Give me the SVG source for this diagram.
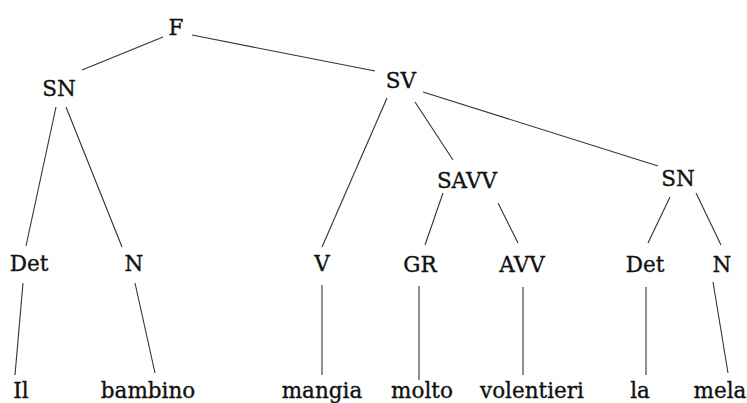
<svg xmlns="http://www.w3.org/2000/svg" width="747" height="403" viewBox="0 0 747 403">
<style>
text{font-family:"DejaVu Serif","Liberation Serif",serif;font-size:21.5px;fill:#111;stroke:#111;stroke-width:0.35;text-anchor:middle}
.e line{stroke:#333;stroke-width:1.1}
</style>
<rect width="747" height="403" fill="#fff"/>
<g class="e" id="edges">
<line x1="163" y1="37" x2="82" y2="70"/>
<line x1="192" y1="35" x2="375" y2="71"/>
<line x1="56" y1="107" x2="26" y2="246"/>
<line x1="66" y1="107" x2="122" y2="247"/>
<line x1="387" y1="98" x2="322" y2="247"/>
<line x1="415" y1="102" x2="453" y2="160"/>
<line x1="423" y1="92" x2="658" y2="166"/>
<line x1="443" y1="193" x2="425" y2="245"/>
<line x1="498" y1="203" x2="518" y2="243"/>
<line x1="670" y1="197" x2="648" y2="243"/>
<line x1="696" y1="193" x2="721" y2="245"/>
<line x1="23" y1="283" x2="15" y2="375"/>
<line x1="135" y1="283" x2="155" y2="373"/>
<line x1="322" y1="285" x2="322" y2="375"/>
<line x1="419" y1="286" x2="419" y2="380"/>
<line x1="523" y1="287" x2="523" y2="375"/>
<line x1="646" y1="287" x2="646" y2="375"/>
<line x1="713" y1="282" x2="728" y2="373"/>
</g>
<g id="F"><text x="176" y="35">F</text></g>
<g id="SN1"><text x="59" y="96">SN</text></g>
<g id="SV"><text x="401" y="88">SV</text></g>
<g id="SAVV"><text x="467" y="188">SAVV</text></g>
<g id="SN2"><text x="678" y="186">SN</text></g>
<g id="Det1"><text x="29" y="271">Det</text></g>
<g id="N1"><text x="134" y="271">N</text></g>
<g id="V"><text x="322" y="271">V</text></g>
<g id="GR"><text x="420" y="272">GR</text></g>
<g id="AVV"><text x="522" y="272">AVV</text></g>
<g id="Det2"><text x="645" y="272">Det</text></g>
<g id="N2"><text x="722" y="272">N</text></g>
<g id="Il"><text x="21" y="398">Il</text></g>
<g id="bambino"><text x="148" y="398">bambino</text></g>
<g id="mangia"><text x="322" y="398">mangia</text></g>
<g id="molto"><text x="422" y="398">molto</text></g>
<g id="volentieri"><text x="532" y="398">volentieri</text></g>
<g id="la"><text x="640" y="398">la</text></g>
<g id="mela"><text x="720" y="398">mela</text></g>
</svg>
